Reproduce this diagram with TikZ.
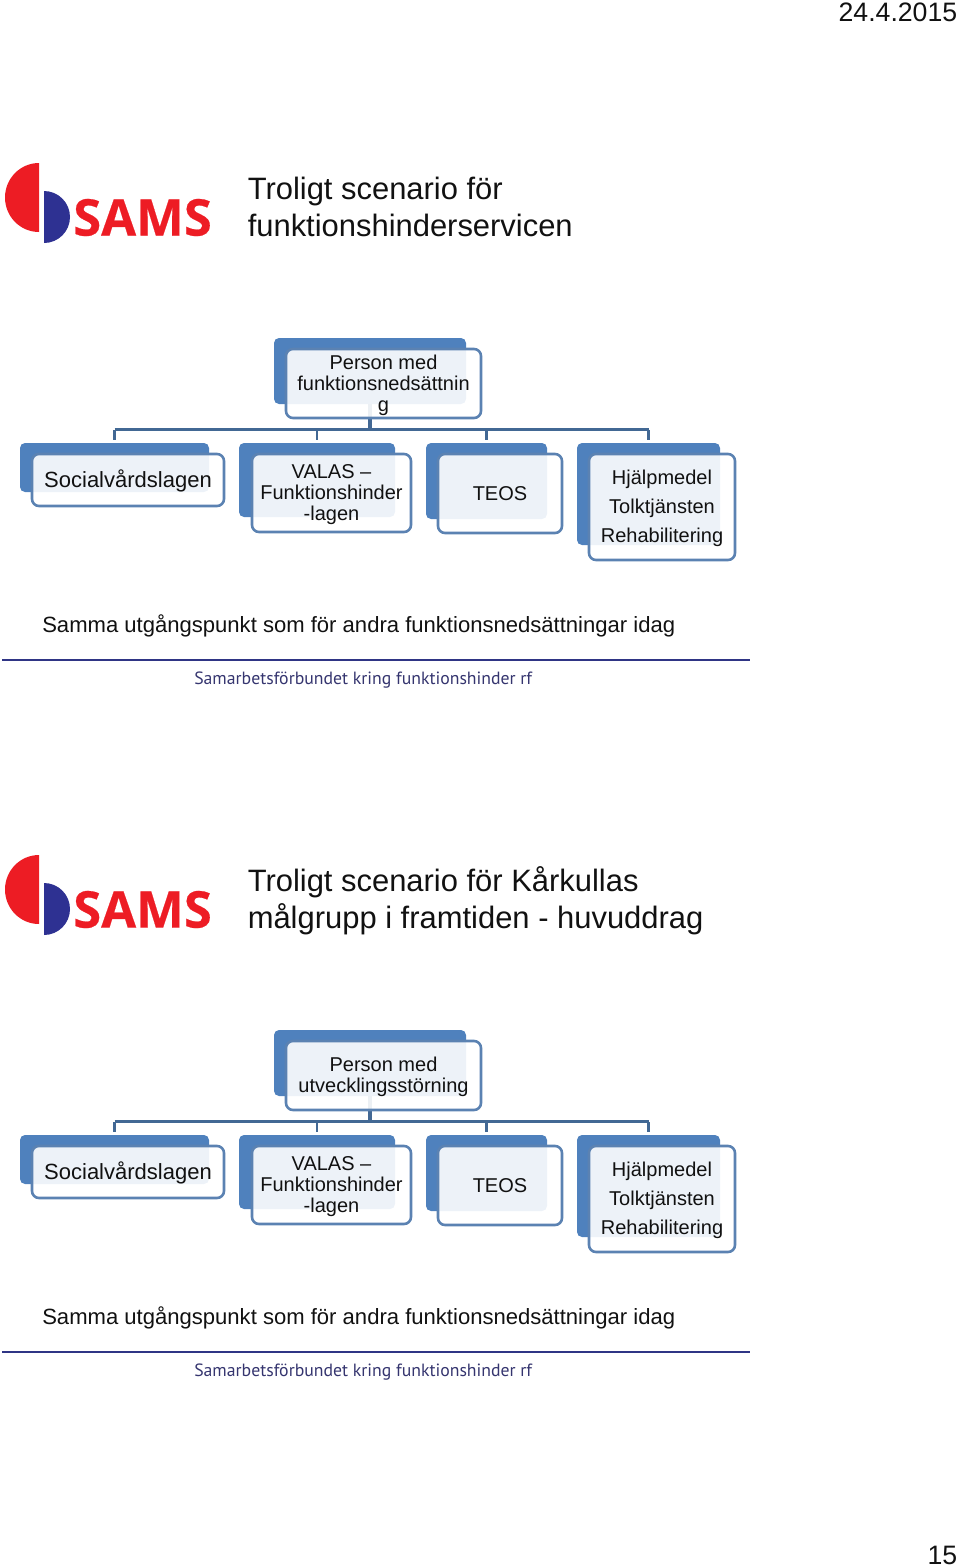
\documentclass[tikz,border=0pt]{standalone}
\usepackage{fontspec}
\setmainfont{Liberation Sans}
\newfontfamily\logofont[BoldFeatures={FakeBold=0.4}]{Open Sans}
\newfontfamily\footfont{PT Sans}
\definecolor{backblue}{HTML}{4F81BD}
\definecolor{edgeblue}{HTML}{5B82B2}
\definecolor{connblue}{HTML}{426894}
\definecolor{samsred}{HTML}{ED1C24}
\definecolor{samsblue}{HTML}{2E3192}
\definecolor{rulenavy}{HTML}{2F3585}
\definecolor{foottext}{HTML}{35356F}
\definecolor{bodytext}{HTML}{111111}
\def\px{0.75pt}
\tikzset{
  x=0.75pt,y=-0.75pt,
  backbox/.style={draw=none,fill=backblue,rounded corners=5*\px,inner sep=0pt},
  frontbox/.style={draw=edgeblue,line width=2.6*\px,fill=white,fill opacity=0.9,rounded corners=7*\px,inner sep=0pt},
  boxtext/.style={inner sep=0pt,align=center,text=bodytext,font=\fontsize{15}{15.75}\selectfont},
  conn/.style={draw=connblue,line width=2.6*\px},
  slidetitle/.style={anchor=west,inner sep=0pt,align=left,text=bodytext,font=\fontsize{23.2}{27.75}\selectfont},
  bodyline/.style={anchor=west,inner sep=0pt,text=bodytext,font=\fontsize{16.55}{18}\selectfont},
  footline/.style={anchor=west,inner sep=0pt,text=foottext,font=\footfont\fontsize{13.3}{16}\selectfont},
  pagemark/.style={anchor=east,inner sep=0pt,text=bodytext,font=\fontsize{20}{22}\selectfont},
  logotext/.style={anchor=west,inner sep=0pt,text=samsred,font=\logofont\bfseries\fontsize{38}{40}\selectfont},
}
% #1 prefix, #2 y offset, #3 title, #4 top box text, #5 shift of the top box text
\newcommand\slidepanel[5]{%
\begin{scope}[yshift=-#2*\px]
  % logo
  \fill[samsred] (39,163) arc[start angle=270,end angle=90,x radius=34,y radius=34.5] -- cycle;
  \fill[samsblue] (44,191) arc[start angle=-90,end angle=90,x radius=26,y radius=26] -- cycle;
  \node[logotext] (#1logo) at (73,217.5) {SAMS};
  \node[slidetitle] (#1title) at (247.5,207.5) {#3};
  % back plates
  \node[backbox,minimum width=192*\px,minimum height=66*\px] (#1tb) at (370,371) {};
  \node[backbox,minimum width=189*\px,minimum height=49*\px] (#1sb) at (114.5,467.5) {};
  \node[backbox,minimum width=156*\px,minimum height=74*\px] (#1vb) at (317,480) {};
  \node[backbox,minimum width=121*\px,minimum height=76*\px] (#1eb) at (486.5,481) {};
  \node[backbox,minimum width=143*\px,minimum height=102*\px] (#1hb) at (648.5,494) {};
  % connectors
  \coordinate (#1bus) at (370,429.7);
  \draw[conn,line width=3.2*\px] (#1tb.south) -- (#1bus);
  \draw[conn,line cap=butt] (#1sb.north |- #1bus) -- (#1hb.north |- #1bus);
  \foreach \c in {sb,vb,eb,hb}{
    \draw[conn,shorten <=3*\px] (#1\c.north) -- (#1\c.north |- #1bus);
  }
  % front boxes
  \node[frontbox,minimum width=195*\px,minimum height=69*\px] (#1tf) at (383.5,383.5) {};
  \node[frontbox,minimum width=192*\px,minimum height=52*\px] (#1sf) at (128,480) {};
  \node[frontbox,minimum width=159*\px,minimum height=78*\px] (#1vf) at (331.5,493) {};
  \node[frontbox,minimum width=124*\px,minimum height=79*\px] (#1ef) at (500,493.5) {};
  \node[frontbox,minimum width=146*\px,minimum height=106*\px] (#1hf) at (662,507) {};
  % box texts
  \node[boxtext,yshift=-#5*\px] (#1tt) at (#1tf.center) {#4};
  \node[boxtext,yshift=-0.5*\px,font=\fontsize{16.5}{18}\selectfont] (#1st) at (#1sf.center) {Socialvårdslagen};
  \node[boxtext,yshift=-2*\px] (#1vt) at (#1vf.center) {VALAS –\\Funktionshinder\\-lagen};
  \node[boxtext,yshift=-0.5*\px] (#1et) at (#1ef.center) {TEOS};
  \node[boxtext,yshift=-1*\px,font=\fontsize{15}{21.75}\selectfont] (#1ht) at (#1hf.center) {Hjälpmedel\\Tolktjänsten\\Rehabilitering};
  \node[bodyline] (#1body) at (42,625.7) {Samma utgångspunkt som för andra funktionsnedsättningar idag};
  \coordinate (#1ra) at (2,659.5);
  \coordinate (#1rb) at (750,659.5);
  \draw[rulenavy,line width=2*\px] (#1ra) -- (#1rb);
  \node[footline] (#1foot) at (194,680.5) {Samarbetsförbundet kring funktionshinder rf};
\end{scope}}
\begin{document}
\begin{tikzpicture}
\useasboundingbox (0,0) rectangle (960,1567);
\node[pagemark] (date) at (957.5,12) {24.4.2015};
\node[pagemark] (pagenum) at (957.5,1555.5) {15};
\slidepanel{a}{0}{\vphantom{Å}Troligt scenario för\\funktionshinderservicen\vphantom{g}}{Person med\\funktionsnedsättnin\\g}{2}
\slidepanel{b}{692}{\vphantom{Å}Troligt scenario för Kårkullas\\målgrupp i framtiden - huvuddrag\vphantom{g}}{Person med\\utvecklingsstörning}{1.5}
\end{tikzpicture}
\end{document}
